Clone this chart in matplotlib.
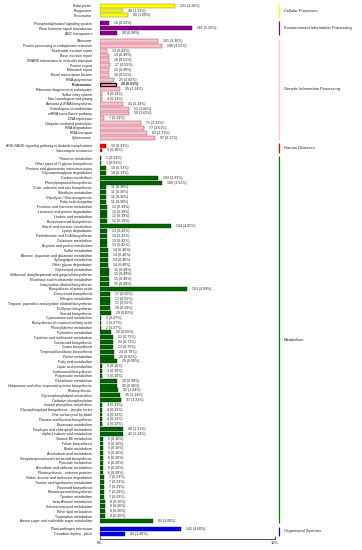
import matplotlib
matplotlib.use("Agg")
import matplotlib.pyplot as plt
from matplotlib.transforms import blended_transform_factory

plt.rcParams['font.family'] = ['Liberation Sans', 'DejaVu Sans']

TOTAL = 3064

group_names = ["Cellular Processes", "Environmental Information Processing",
               "Genetic Information Processing", "Human Diseases",
               "Metabolism", "Organismal Systems"]

cellular_labels = ["Endocytosis", "Phagosome", "Peroxisome"]
cellular_counts = [131, 40, 49]

environmental_labels = ["Phosphatidylinositol signaling system",
                        "Plant hormone signal transduction", "ABC transporters"]
environmental_counts = [16, 161, 30]

genetic_labels = ["Ribosome", "Protein processing in endoplasmic reticulum",
                  "Nucleotide excision repair", "Base excision repair",
                  "SNARE interactions in vesicular transport", "Protein export",
                  "Mismatch repair", "Basal transcription factors", "RNA polymerase",
                  "Proteasome", "Ribosome biogenesis in eukaryotes", "Sulfur relay system",
                  "Non-homologous end-joining", "Aminoacyl-tRNA biosynthesis",
                  "Homologous recombination", "mRNA surveillance pathway",
                  "DNA replication", "Ubiquitin mediated proteolysis", "RNA degradation",
                  "RNA transport", "Spliceosome"]
genetic_counts = [101, 108, 13, 15, 16, 17, 15, 16, 25, 28, 35, 4, 4, 41, 51, 50,
                  7, 71, 77, 83, 97]

human_labels = ["AGE-RAGE signaling pathway in diabetic complications",
                "Vancomycin resistance"]
human_counts = [10, 3]

metabolism_labels = [
    "Thiamine metabolism", "Other types of O-glycan biosynthesis",
    "Pentose and glucuronate interconversions", "Glycosaminoglycan degradation",
    "Carbon metabolism", "Phenylpropanoid biosynthesis",
    "Cutin, suberine and wax biosynthesis", "Riboflavin metabolism",
    "Glycolysis / Gluconeogenesis", "Fatty acid elongation",
    "Fructose and mannose metabolism", "Limonene and pinene degradation",
    "Linoleic acid metabolism", "Brassinosteroid biosynthesis",
    "Starch and sucrose metabolism", "Lysine degradation",
    "Pantothenate and CoA biosynthesis", "Galactose metabolism",
    "Arginine and proline metabolism", "Sulfur metabolism",
    "Alanine, aspartate and glutamate metabolism", "Sphingolipid metabolism",
    "Other glycan degradation", "Glycerolipid metabolism",
    "Stilbenoid, diarylheptanoid and gingerol biosynthesis",
    "Nicotinate and nicotinamide metabolism", "Isoquinoline alkaloid biosynthesis",
    "Biosynthesis of amino acids", "Diterpenoid biosynthesis", "Nitrogen metabolism",
    "Tropane, piperidine and pyridine alkaloid biosynthesis", "N-Glycan biosynthesis",
    "Steroid biosynthesis", "Cyanoamino acid metabolism",
    "Biosynthesis of unsaturated fatty acids", "Phenylalanine metabolism",
    "Pyrimidine metabolism", "Cysteine and methionine metabolism",
    "Carotenoid biosynthesis", "Zeatin biosynthesis",
    "Terpenoid backbone biosynthesis", "Purine metabolism", "Fatty acid metabolism",
    "Lipoic acid metabolism", "Isoflavonoid biosynthesis", "Propanoate metabolism",
    "Glutathione metabolism", "Ubiquinone and other terpenoid-quinone biosynthesis",
    "Photosynthesis", "Glycerophospholipid metabolism", "Oxidative phosphorylation",
    "Inositol phosphate metabolism", "Glycosphingolipid biosynthesis - ganglio series",
    "One carbon pool by folate", "Flavone and flavonol biosynthesis",
    "Butanoate metabolism", "Porphyrin and chlorophyll metabolism",
    "alpha-Linolenic acid metabolism", "Vitamin B6 metabolism", "Folate biosynthesis",
    "Biotin metabolism", "Arachidonic acid metabolism",
    "Sesquiterpenoid and triterpenoid biosynthesis", "Pyruvate metabolism",
    "Ascorbate and aldarate metabolism", "Photosynthesis - antenna proteins",
    "Valine, leucine and isoleucine degradation", "Taurine and hypotaurine metabolism",
    "Flavonoid biosynthesis", "Monoterpenoid biosynthesis", "Tyrosine metabolism",
    "beta-Alanine metabolism", "Selenocompound metabolism", "Ether lipid metabolism",
    "Tryptophan metabolism", "Amino sugar and nucleotide sugar metabolism"]
metabolism_counts = [1, 1, 10, 10, 102, 108, 11, 11, 11, 11, 12, 12, 12, 12, 124,
                     13, 13, 13, 13, 14, 14, 14, 14, 15, 15, 15, 15, 153, 17, 17,
                     17, 18, 19, 2, 2, 2, 20, 22, 22, 23, 24, 25, 29, 3, 3, 3,
                     30, 30, 32, 35, 37, 4, 4, 4, 4, 4, 40, 41, 5, 5, 5, 5,
                     6, 6, 6, 6, 7, 7, 7, 7, 7, 8, 8, 8, 8, 92]

organismal_labels = ["Plant-pathogen interaction", "Circadian rhythm - plant"]
organismal_counts = [141, 43]

highlight_label = "Proteasome"

x_ticks = [0, 10]
x_ticklabels = ["0%", "10%"]

# styles
bar_colors = ["#FFFF00", "#8B008B", "#FFC0CB", "#FF0000", "#006400", "#0000EE"]
edge_colors = ["#7a7a00", "#4a004a", "#8b3a4a", "#8b0000", "#003a00", "#00007a"]
line_colors = ["#FFFF00", "#8B008B", "#FFC0CB", "#FF0000", "#008000", "#0000EE"]

groups = [(cellular_labels, cellular_counts), (environmental_labels, environmental_counts),
          (genetic_labels, genetic_counts), (human_labels, human_counts),
          (metabolism_labels, metabolism_counts), (organismal_labels, organismal_counts)]

fig = plt.figure(figsize=(3.62, 5.5), dpi=100)
ax = fig.add_axes([100 / 362, 1 - 538.7 / 550, 175 / 362, 538.7 / 550])

GAP = 0.65
pos = 0.0
all_pos, all_labels = [], []
label_fs = 2.5
trans = blended_transform_factory(ax.transAxes, ax.transData)
for gi, (labels, counts) in enumerate(groups):
    start = pos
    ys = []
    for lab, c in zip(labels, counts):
        ys.append(pos)
        all_pos.append(pos)
        all_labels.append(lab)
        pos += 1
    pcts = [c / TOTAL * 100 for c in counts]
    for y, lab, c, p in zip(ys, labels, counts, pcts):
        hl = lab == highlight_label
        ax.barh(y, p, height=0.8, color=bar_colors[gi],
                edgecolor="black" if hl else edge_colors[gi],
                linewidth=1.0 if hl else 0.3)
        ax.annotate(f"{c} ({p:.2f}%)", xy=(p, y), xytext=(3.6, 0),
                    textcoords="offset points", va="center", ha="left",
                    fontsize=label_fs, color="#222222",
                    fontweight="bold" if hl else "normal")
    end = pos - 1
    ax.plot([1.0246, 1.0246], [start - 0.45, end + 0.45], transform=trans,
            color=line_colors[gi], lw=0.9, clip_on=False, solid_capstyle="butt")
    ax.text(1.051, (start + end) / 2, group_names[gi], transform=trans,
            fontsize=2.9, va="center", ha="left", color="#222222", clip_on=False)
    pos += GAP

last = pos - GAP - 1
ax.set_ylim(last + 5 / 4.83, -5.7 / 4.83)
ax.set_xlim(0, 10)
ax.set_yticks(all_pos)
ax.set_yticklabels(all_labels, fontsize=label_fs, color="#222222")
for t in ax.get_yticklabels():
    if t.get_text() == highlight_label:
        t.set_fontweight("bold")
ax.tick_params(axis="y", length=0, pad=5.8)
ax.set_xticks(x_ticks)
ax.set_xticklabels(x_ticklabels, fontsize=2.9, color="#222222")
ax.tick_params(axis="x", direction="in", length=2, width=0.6, pad=2, color="#333333")
for s in ["left", "top", "right"]:
    ax.spines[s].set_visible(False)
ax.spines["bottom"].set_linewidth(0.6)
ax.spines["bottom"].set_color("#333333")

fig.savefig("out.png", dpi=100)
